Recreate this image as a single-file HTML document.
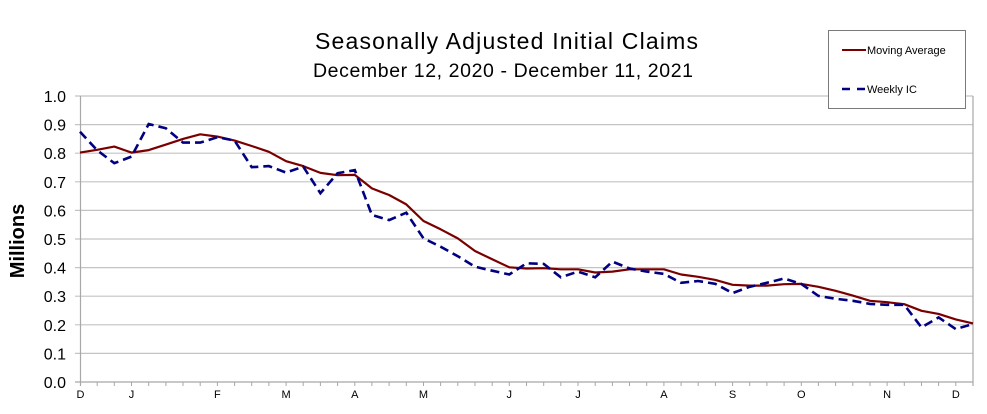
<!DOCTYPE html>
<html><head><meta charset="utf-8"><style>
html,body{margin:0;padding:0;background:#fff;}
svg{display:block;font-family:"Liberation Sans",Arial,sans-serif;}
</style></head><body>
<svg width="987" height="414" viewBox="0 0 987 414" xmlns="http://www.w3.org/2000/svg">
<rect width="987" height="414" fill="#fff"/>
<!-- title -->
<text x="315" y="49" font-size="23" fill="#000" textLength="383" lengthAdjust="spacing">Seasonally Adjusted Initial Claims</text>
<text x="313" y="77" font-size="19.5" fill="#000" textLength="380" lengthAdjust="spacing">December 12, 2020 - December 11, 2021</text>
<!-- gridlines -->
<g stroke="#c4c4c4" stroke-width="1.2">
<line x1="75" y1="96" x2="973" y2="96"/>
<line x1="75" y1="124.6" x2="973" y2="124.6"/>
<line x1="75" y1="153.2" x2="973" y2="153.2"/>
<line x1="75" y1="181.8" x2="973" y2="181.8"/>
<line x1="75" y1="210.4" x2="973" y2="210.4"/>
<line x1="75" y1="239" x2="973" y2="239"/>
<line x1="75" y1="267.6" x2="973" y2="267.6"/>
<line x1="75" y1="296.2" x2="973" y2="296.2"/>
<line x1="75" y1="324.8" x2="973" y2="324.8"/>
<line x1="75" y1="353.4" x2="973" y2="353.4"/>
</g>
<g stroke="#a8a8a8" stroke-width="1.2">
<line x1="80.5" y1="96" x2="80.5" y2="386"/>
<line x1="973" y1="96" x2="973" y2="386"/>
<line x1="75" y1="382" x2="973" y2="382"/>
</g>
<!-- x ticks -->
<g stroke="#a8a8a8" stroke-width="1">
<path d="M97.2 382v4M114.3 382v4M131.5 382v4M148.7 382v4M165.9 382v4M183 382v4M200.2 382v4M217.4 382v4M234.6 382v4M251.7 382v4M268.9 382v4M286.1 382v4M303.2 382v4M320.4 382v4M337.6 382v4M354.8 382v4M371.9 382v4M389.1 382v4M406.3 382v4M423.5 382v4M440.6 382v4M457.8 382v4M475 382v4M492.2 382v4M509.3 382v4M526.5 382v4M543.7 382v4M560.8 382v4M578 382v4M595.2 382v4M612.4 382v4M629.5 382v4M646.7 382v4M663.9 382v4M681.1 382v4M698.2 382v4M715.4 382v4M732.6 382v4M749.7 382v4M766.9 382v4M784.1 382v4M801.3 382v4M818.4 382v4M835.6 382v4M852.8 382v4M870 382v4M887.1 382v4M904.3 382v4M921.5 382v4M938.6 382v4M955.8 382v4"/>
</g>
<!-- y labels -->
<g font-size="16" fill="#000" text-anchor="end">
<text x="66" y="102">1.0</text>
<text x="66" y="130.6">0.9</text>
<text x="66" y="159.2">0.8</text>
<text x="66" y="187.8">0.7</text>
<text x="66" y="216.4">0.6</text>
<text x="66" y="245">0.5</text>
<text x="66" y="273.6">0.4</text>
<text x="66" y="302.2">0.3</text>
<text x="66" y="330.8">0.2</text>
<text x="66" y="359.4">0.1</text>
<text x="66" y="388">0.0</text>
</g>
<text transform="translate(24,241) rotate(-90)" font-size="20" font-weight="bold" text-anchor="middle" fill="#000">Millions</text>
<!-- x labels -->
<g font-size="11" fill="#000" text-anchor="middle">
<text x="80.5" y="398">D</text>
<text x="131.5" y="398">J</text>
<text x="217.4" y="398">F</text>
<text x="286.1" y="398">M</text>
<text x="354.8" y="398">A</text>
<text x="423.5" y="398">M</text>
<text x="509.3" y="398">J</text>
<text x="578" y="398">J</text>
<text x="663.9" y="398">A</text>
<text x="732.6" y="398">S</text>
<text x="801.3" y="398">O</text>
<text x="887.1" y="398">N</text>
<text x="955.8" y="398">D</text>
</g>
<!-- series -->
<polyline fill="none" stroke="#7a0000" stroke-width="2.2" stroke-linejoin="round" points="80,152.6 97.2,149.8 114.3,146.6 131.5,152.6 148.7,150.1 165.9,144.6 183,138.9 200.2,134.3 217.4,136.6 234.6,140.6 251.7,146 268.9,151.8 286.1,161.2 303.2,166.1 320.4,172.9 337.6,175.2 354.8,174.9 371.9,188.4 389.1,195 406.3,204.4 423.5,221 440.6,229.3 457.8,238.4 475,251 492.2,259.3 509.3,267.3 526.5,268.5 543.7,268.2 560.8,269.3 578,269.3 595.2,272.5 612.4,271.6 629.5,269.3 646.7,269.3 663.9,269.3 681.1,274.5 698.2,276.8 715.4,279.9 732.6,284.8 749.7,285.6 766.9,285.6 784.1,284.2 801.3,283.9 818.4,286.8 835.6,290.8 852.8,295.6 870,300.8 887.1,302.2 904.3,304.2 921.5,310.8 938.6,313.9 955.8,319.4 973,323.4"/>
<polyline fill="none" stroke="#000080" stroke-width="2.6" stroke-dasharray="9 5" points="80,131.8 97.2,150.3 114.3,163.2 131.5,156.6 148.7,124 165.9,128.3 183,142.6 200.2,142.6 217.4,137.2 234.6,140.6 251.7,167.2 268.9,166.1 286.1,172.6 303.2,166.6 320.4,193.2 337.6,173.2 354.8,170.1 371.9,215 389.1,220.1 406.3,212.7 423.5,238.4 440.6,246.7 457.8,256.2 475,266.7 492.2,270.7 509.3,274.5 526.5,263.3 543.7,263.9 560.8,277.3 578,271.6 595.2,277.3 612.4,261.6 629.5,268.5 646.7,271.6 663.9,273.9 681.1,282.8 698.2,281 715.4,283.9 732.6,293.1 749.7,286.8 766.9,282.8 784.1,278.5 801.3,283.9 818.4,295.9 835.6,298.8 852.8,300.8 870,303.9 887.1,304.8 904.3,304.8 921.5,327.4 938.6,317.4 955.8,329.1 973,323.9"/>
<!-- legend -->
<rect x="828.5" y="30.5" width="137" height="78" fill="#fff" stroke="#7a7a7a" stroke-width="1"/>
<line x1="842" y1="50" x2="866" y2="50" stroke="#7a0000" stroke-width="2"/>
<text x="867" y="54" font-size="11" fill="#000">Moving Average</text>
<line x1="842" y1="89" x2="866" y2="89" stroke="#000080" stroke-width="2.4" stroke-dasharray="8 7"/>
<text x="867" y="93" font-size="11" fill="#000">Weekly IC</text>
</svg>
</body></html>
